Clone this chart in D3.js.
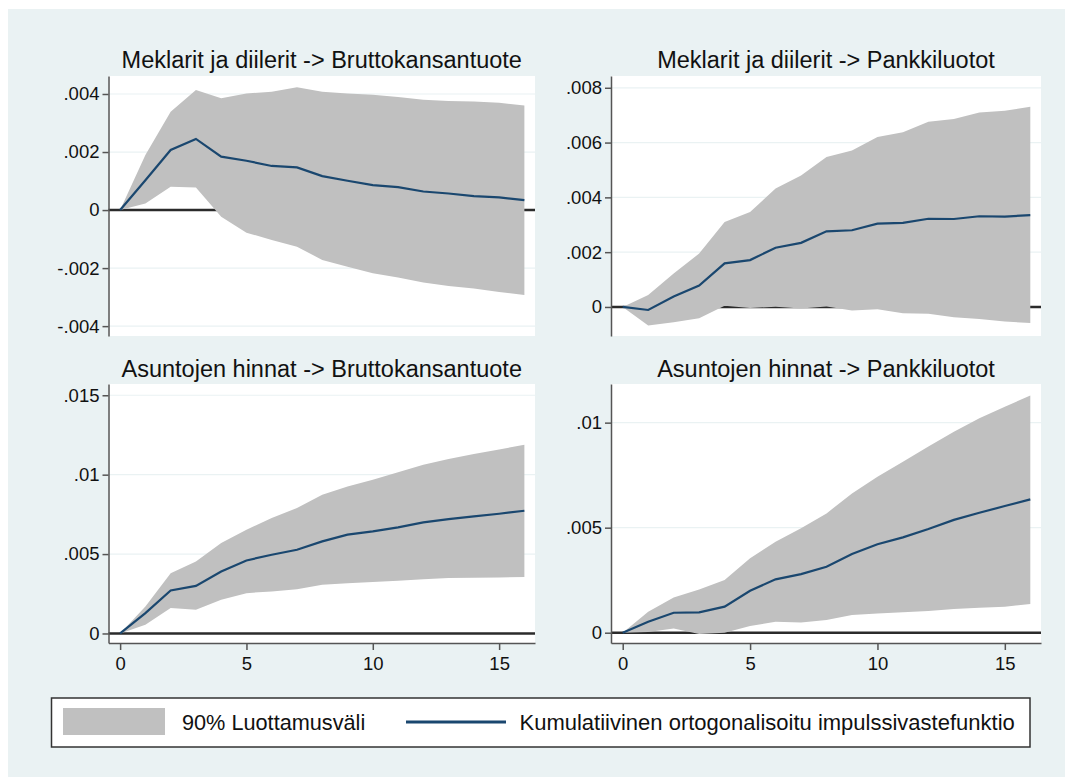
<!DOCTYPE html>
<html>
<head>
<meta charset="utf-8">
<script src="https://cdnjs.cloudflare.com/ajax/libs/d3/7.8.5/d3.min.js"></script>
<style>
  body { margin: 0; background: #ffffff; }
  text { font-family: "Liberation Sans", Arial, sans-serif; }
</style>
</head>
<body>
<svg id="chart"></svg>
<script>
// horizon (steps after the shock)
var periods = [0, 1, 2, 3, 4, 5, 6, 7, 8, 9, 10, 11, 12, 13, 14, 15, 16];

var panelTitles = [
  "Meklarit ja diilerit -> Bruttokansantuote",
  "Meklarit ja diilerit -> Pankkiluotot",
  "Asuntojen hinnat -> Bruttokansantuote",
  "Asuntojen hinnat -> Pankkiluotot"
];

// cumulative orthogonalised irf + 90% band, one set per panel
var irfBrokersGdp   = [0, 0.00103, 0.00207, 0.00245, 0.00184, 0.00170, 0.00152, 0.00147, 0.00117, 0.00101, 0.00086, 0.00079, 0.00064, 0.00057, 0.00048, 0.00044, 0.00034];
var upperBrokersGdp = [0, 0.00190, 0.00339, 0.00414, 0.00385, 0.00402, 0.00408, 0.00423, 0.00408, 0.00402, 0.00397, 0.00390, 0.00380, 0.00376, 0.00374, 0.00370, 0.00360];
var lowerBrokersGdp = [0, 0.00023, 0.00080, 0.00078, -0.00023, -0.00078, -0.00103, -0.00126, -0.00172, -0.00195, -0.00218, -0.00232, -0.00250, -0.00262, -0.00270, -0.00282, -0.00293];

var irfBrokersLoans   = [0, -0.00011, 0.00038, 0.00078, 0.00159, 0.00171, 0.00216, 0.00234, 0.00276, 0.00280, 0.00304, 0.00307, 0.00322, 0.00321, 0.00331, 0.00330, 0.00335];
var upperBrokersLoans = [0, 0.00044, 0.00122, 0.00195, 0.00310, 0.00347, 0.00432, 0.00480, 0.00547, 0.00571, 0.00620, 0.00638, 0.00676, 0.00686, 0.00710, 0.00716, 0.00731];
var lowerBrokersLoans = [0, -0.00068, -0.00056, -0.00041, 0.00004, -0.00004, 0.00001, -0.00006, 0.00002, -0.00013, -0.00008, -0.00023, -0.00025, -0.00038, -0.00044, -0.00053, -0.00059];

var irfHousingGdp   = [0, 0.00128, 0.00271, 0.00300, 0.00390, 0.00460, 0.00496, 0.00527, 0.00580, 0.00622, 0.00643, 0.00668, 0.00700, 0.00720, 0.00737, 0.00754, 0.00773];
var upperHousingGdp = [0, 0.00170, 0.00380, 0.00454, 0.00569, 0.00653, 0.00727, 0.00790, 0.00874, 0.00926, 0.00968, 0.01015, 0.01063, 0.01099, 0.01130, 0.01158, 0.01189];
var lowerHousingGdp = [0, 0.00055, 0.00160, 0.00149, 0.00212, 0.00254, 0.00265, 0.00279, 0.00307, 0.00317, 0.00324, 0.00332, 0.00342, 0.00349, 0.00351, 0.00353, 0.00355];

var irfHousingLoans   = [0, 0.00052, 0.00095, 0.00097, 0.00124, 0.00200, 0.00254, 0.00279, 0.00314, 0.00375, 0.00421, 0.00454, 0.00494, 0.00537, 0.00571, 0.00603, 0.00635];
var upperHousingLoans = [0, 0.00100, 0.00168, 0.00206, 0.00251, 0.00354, 0.00433, 0.00497, 0.00568, 0.00663, 0.00743, 0.00814, 0.00886, 0.00957, 0.01021, 0.01076, 0.01129];
var lowerHousingLoans = [0, 0.00003, 0.00020, -0.00006, 0.00000, 0.00032, 0.00052, 0.00048, 0.00060, 0.00084, 0.00092, 0.00097, 0.00103, 0.00113, 0.00119, 0.00124, 0.00137];

var yTicksBrokersGdp   = [-0.004, -0.002, 0, 0.002, 0.004];
var yTicksBrokersLoans = [0, 0.002, 0.004, 0.006, 0.008];
var yTicksHousingGdp   = [0, 0.005, 0.01, 0.015];
var yTicksHousingLoans = [0, 0.005, 0.01];
var xTicks = [0, 5, 10, 15];

var legendLabels = ["90% Luottamusväli", "Kumulatiivinen ortogonalisoitu impulssivastefunktio"];

var width = 1065;
var height = 777;

var bandColor = "#c0c0c0";
var lineColor = "#1a476f";
var bgColor = "#eaf2f3";

var svg = d3.select("#chart")
            .attr("width", width)
            .attr("height", height);

svg.append("rect")
   .attr("x", 8).attr("y", 9)
   .attr("width", width - 8).attr("height", height - 9)
   .attr("fill", bgColor);

var cols = [{left: 108.5, right: 535}, {left: 611, right: 1041}];
var rows = [{top: 76, bottom: 336, titleY: 68}, {top: 384, bottom: 643, titleY: 377}];

var panels = [
  {title: panelTitles[0], irf: irfBrokersGdp, lo: lowerBrokersGdp, hi: upperBrokersGdp, ticks: yTicksBrokersGdp, dom: [-0.00434, 0.00462], col: 0, row: 0},
  {title: panelTitles[1], irf: irfBrokersLoans, lo: lowerBrokersLoans, hi: upperBrokersLoans, ticks: yTicksBrokersLoans, dom: [-0.00106, 0.00843], col: 1, row: 0},
  {title: panelTitles[2], irf: irfHousingGdp, lo: lowerHousingGdp, hi: upperHousingGdp, ticks: yTicksHousingGdp, dom: [-0.0006, 0.01571], col: 0, row: 1},
  {title: panelTitles[3], irf: irfHousingLoans, lo: lowerHousingLoans, hi: upperHousingLoans, ticks: yTicksHousingLoans, dom: [-0.00049, 0.01184], col: 1, row: 1}
];

// stata style labels: .004, -.002, 0
function stataFmt(d){
  if(d === 0) return "0";
  return String(+d.toPrecision(6)).replace(/^(-?)0\./, "$1.");
}

panels.forEach(function(p){
  var c = cols[p.col], r = rows[p.row];

  var x = d3.scaleLinear()
            .domain([-0.46, 16.42])
            .range([c.left, c.right]);

  var y = d3.scaleLinear()
            .domain(p.dom)
            .range([r.bottom, r.top]);

  var g = svg.append("g");

  g.append("text")
   .attr("x", (c.left + c.right) / 2)
   .attr("y", r.titleY)
   .attr("text-anchor", "middle")
   .attr("font-size", 23.5)
   .attr("fill", "#111")
   .text(p.title);

  g.append("rect")
   .attr("x", c.left).attr("y", r.top)
   .attr("width", c.right - c.left).attr("height", r.bottom - r.top)
   .attr("fill", "#ffffff");

  g.selectAll(".grid")
   .data(p.ticks)
   .enter().append("line")
   .attr("class", "grid")
   .attr("x1", c.left).attr("x2", c.right)
   .attr("y1", function(d){ return y(d); })
   .attr("y2", function(d){ return y(d); })
   .attr("stroke", bgColor)
   .attr("stroke-width", 1.2);

  g.append("line")
   .attr("x1", c.left).attr("x2", c.right)
   .attr("y1", y(0)).attr("y2", y(0))
   .attr("stroke", "#2b2b2b")
   .attr("stroke-width", 2.4);

  var rowsData = periods.map(function(t, i){
    return {t: t, irf: p.irf[i], lo: p.lo[i], hi: p.hi[i]};
  });

  var area = d3.area()
               .x(function(d){ return x(d.t); })
               .y0(function(d){ return y(d.lo); })
               .y1(function(d){ return y(d.hi); });

  g.append("path")
   .datum(rowsData)
   .attr("d", area)
   .attr("fill", bandColor);

  var line = d3.line()
               .x(function(d){ return x(d.t); })
               .y(function(d){ return y(d.irf); });

  g.append("path")
   .datum(rowsData)
   .attr("d", line)
   .attr("fill", "none")
   .attr("stroke", lineColor)
   .attr("stroke-width", 2.2);

  var yAxis = d3.axisLeft(y)
                .tickValues(p.ticks)
                .tickFormat(stataFmt)
                .tickSize(6)
                .tickSizeOuter(0)
                .tickPadding(3);

  var ya = g.append("g")
            .attr("transform", "translate(" + c.left + ",0)")
            .call(yAxis);

  if(p.row === 1){
    var xAxis = d3.axisBottom(x)
                  .tickValues(xTicks)
                  .tickSize(7)
                  .tickSizeOuter(0)
                  .tickPadding(7);
    var xa = g.append("g")
              .attr("transform", "translate(0," + r.bottom + ")")
              .call(xAxis);
    xa.select(".domain").attr("stroke", "#555").attr("stroke-width", 1.5);
    xa.selectAll(".tick line").attr("stroke", "#555").attr("stroke-width", 1.5);
    xa.selectAll(".tick text").attr("font-size", 18.5).attr("fill", "#111").attr("font-family", null);
  }

  ya.select(".domain").attr("stroke", "#555").attr("stroke-width", 1.5);
  ya.selectAll(".tick line").attr("stroke", "#555").attr("stroke-width", 1.5);
  ya.selectAll(".tick text").attr("font-size", 18.5).attr("fill", "#111").attr("font-family", null);
});

// legend
var legend = svg.append("g");

legend.append("rect")
      .attr("x", 51.5).attr("y", 698)
      .attr("width", 978.5).attr("height", 49)
      .attr("fill", "#ffffff")
      .attr("stroke", "#333")
      .attr("stroke-width", 1.5);

legend.append("rect")
      .attr("x", 63).attr("y", 708)
      .attr("width", 102).attr("height", 27)
      .attr("fill", bandColor);

legend.append("text")
      .attr("x", 182).attr("y", 730)
      .attr("font-size", 21.7)
      .attr("fill", "#111")
      .text(legendLabels[0]);

legend.append("line")
      .attr("x1", 406).attr("x2", 506)
      .attr("y1", 722).attr("y2", 722)
      .attr("stroke", lineColor)
      .attr("stroke-width", 3);

legend.append("text")
      .attr("x", 519.5).attr("y", 730)
      .attr("font-size", 22)
      .attr("fill", "#111")
      .text(legendLabels[1]);
</script>
</body>
</html>
